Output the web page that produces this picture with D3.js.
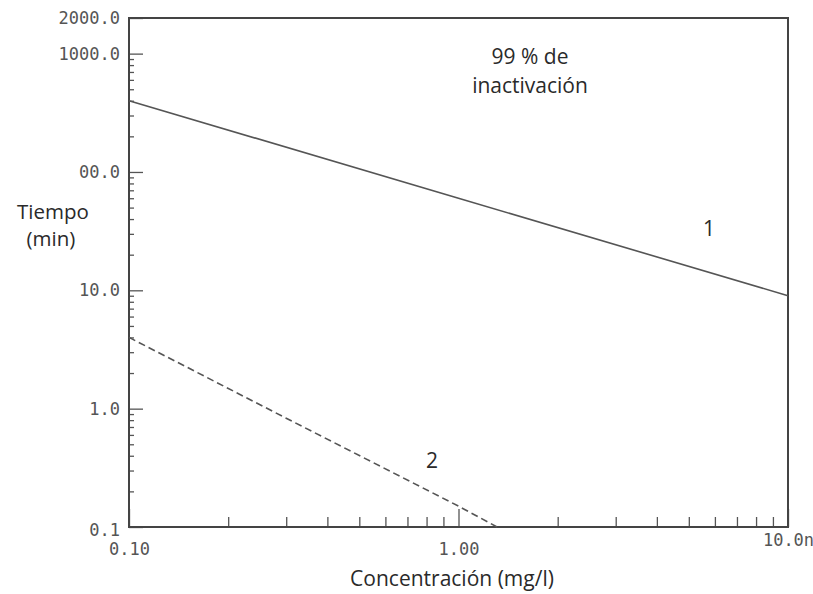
<!DOCTYPE html>
<html>
<head>
<meta charset="utf-8">
<style>
  body { margin: 0; background: #fff; }
  .tick text { font-family: "DejaVu Sans Mono", monospace; font-size: 17px; fill: #555; }
  .lbl { font-family: "Open Sans", sans-serif; fill: #2a2a2a; }
</style>
</head>
<body>
<svg width="813" height="594"></svg>
<script src="https://d3js.org/d3.v7.min.js"></script>
<script>

// curve 1 (solid) and curve 2 (dashed), 99 % inactivation
var conc1 = [0.1, 1.0, 10.0],
    time1 = [400, 60, 9];
var conc2 = [0.1, 0.3, 1.0, 1.31],
    time2 = [4.0, 0.83, 0.15, 0.1];

var yTicks = [0.1, 1, 10, 100, 1000, 2000],
    yTickLabels = ["0.1", "1.0", "10.0", "00.0", "1000.0", "2000.0"];
var xTicks = [0.1, 1, 10],
    xTickLabels = ["0.10", "1.00", "10.0n"];

var svg = d3.select("svg"),
    pl = 129, pr = 788, pt = 18, pb = 527;

var x = d3.scaleLog().domain([0.1, 10]).range([pl, pr]);
var y = d3.scaleLog().domain([0.1, 2000]).range([pb, pt]);

// minor ticks: 2..9 of every decade inside the domain
function minors(lo, hi) {
  var out = [];
  for (var e = -1; e <= 3; e++)
    for (var m = 2; m <= 9; m++) {
      var v = m * Math.pow(10, e);
      if (v > lo * 1.0001 && v < hi * 0.9999) out.push(v);
    }
  return out;
}

// x axis
svg.append("g")
    .attr("transform", "translate(0," + pb + ")")
    .call(d3.axisBottom(x).tickValues(minors(0.1, 10)).tickSize(-10).tickFormat(""))
    .call(function(g) { g.select(".domain").remove(); })
    .selectAll("line").attr("stroke", "#555").attr("stroke-width", 1.3);

var xa = svg.append("g")
    .attr("transform", "translate(0," + pb + ")")
    .call(d3.axisBottom(x).tickValues(xTicks).tickSize(-18).tickPadding(16)
      .tickFormat(function(d, i) { return xTickLabels[i]; }));
xa.select(".domain").remove();
xa.selectAll("line").attr("stroke", "#555").attr("stroke-width", 1.3);
xa.selectAll("text").filter(function(d) { return d === 10; }).attr("dy", "0.2em");

// y axis
svg.append("g")
    .attr("transform", "translate(" + pl + ",0)")
    .call(d3.axisLeft(y).tickValues(minors(0.1, 2000)).tickSize(-5).tickFormat(""))
    .call(function(g) { g.select(".domain").remove(); })
    .selectAll("line").attr("stroke", "#555").attr("stroke-width", 1.3);

var ya = svg.append("g")
    .attr("transform", "translate(" + pl + ",0)")
    .call(d3.axisLeft(y).tickValues(yTicks).tickSize(-14).tickPadding(9)
      .tickFormat(function(d, i) { return yTickLabels[i]; }));
ya.select(".domain").remove();
ya.selectAll("line").attr("stroke", "#555").attr("stroke-width", 1.3);
ya.selectAll("text").filter(function(d) { return d === 0.1; }).attr("dy", "0.5em");

// frame
svg.append("rect")
    .attr("x", pl).attr("y", pt)
    .attr("width", pr - pl).attr("height", pb - pt)
    .attr("fill", "none").attr("stroke", "#444").attr("stroke-width", 2);

var line = d3.line()
    .x(function(d) { return x(d[0]); })
    .y(function(d) { return y(d[1]); });

svg.append("path")
    .datum(d3.zip(conc1, time1))
    .attr("fill", "none")
    .attr("stroke", "#555")
    .attr("stroke-width", 1.6)
    .attr("d", line);

svg.append("path")
    .datum(d3.zip(conc2, time2))
    .attr("fill", "none")
    .attr("stroke", "#555")
    .attr("stroke-width", 1.6)
    .attr("stroke-dasharray", "7,4")
    .attr("d", line);

// labels
svg.append("text").attr("class", "lbl")
    .attr("x", 452).attr("y", 586)
    .attr("text-anchor", "middle").style("font-size", "21px")
    .text("Concentración (mg/l)");

svg.append("text").attr("class", "lbl")
    .attr("x", 53).attr("y", 219)
    .attr("text-anchor", "middle").style("font-size", "20.5px")
    .text("Tiempo");
svg.append("text").attr("class", "lbl")
    .attr("x", 51).attr("y", 246)
    .attr("text-anchor", "middle").style("font-size", "20.5px")
    .text("(min)");

svg.append("text").attr("class", "lbl")
    .attr("x", 530).attr("y", 64)
    .attr("text-anchor", "middle").style("font-size", "21px")
    .text("99 % de");
svg.append("text").attr("class", "lbl")
    .attr("x", 530).attr("y", 93)
    .attr("text-anchor", "middle").style("font-size", "21px")
    .text("inactivación");

svg.append("text").attr("class", "lbl")
    .attr("x", 709).attr("y", 236)
    .attr("text-anchor", "middle").style("font-size", "21px")
    .text("1");
svg.append("text").attr("class", "lbl")
    .attr("x", 432).attr("y", 468)
    .attr("text-anchor", "middle").style("font-size", "21px")
    .text("2");

</script>
</body>
</html>
